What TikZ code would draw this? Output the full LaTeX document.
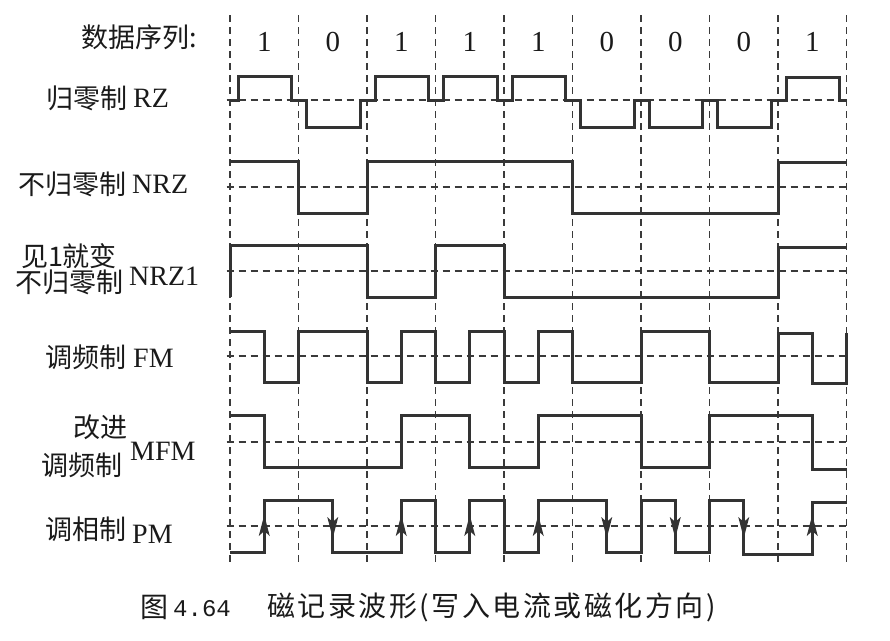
\documentclass[tikz,border=0pt]{standalone}
\usepackage{fontspec}
\setmainfont{Liberation Serif}
\newfontfamily\cjk{Noto Sans CJK SC}
\newfontfamily\cjkcap[LetterSpace=9]{Noto Sans CJK SC}
\newfontfamily\capmono{Liberation Mono}
\definecolor{wavec}{HTML}{333333}
\definecolor{guidec}{HTML}{3A3A3A}
\definecolor{txt}{HTML}{1A1A1A}
\begin{document}
\begin{tikzpicture}[x=1pt,y=-1pt,
  wave/.style={line width=3pt, draw=wavec, line join=miter, line cap=butt},
  guide/.style={line width=1.4pt, draw=guidec, dash pattern=on 7pt off 5pt},
  cn/.style={font=\cjk\fontsize{27}{24}\selectfont, inner sep=0pt, text=txt},
  la/.style={font=\fontsize{28}{28}\selectfont, inner sep=0pt, anchor=base west, text=txt},
  digit/.style={font=\fontsize{29}{29}\selectfont, inner sep=0pt, anchor=base, text=txt},
  tipup/.style={fill=wavec},
]
\useasboundingbox[fill=white] (0,0) rectangle (890,640);

% ---- labels ----
\node[cn, anchor=west] (seq) at (81,37) {数据序列:};
\node[cn, anchor=east] (rzc) at (128,98) {归零制};
\node[la] (rzl) at (133,107) {RZ};
\node[cn, anchor=east] (nrzc) at (127,184) {不归零制};
\node[la] (nrzl) at (132,193) {NRZ};
\node[cn, align=center] (nrzic) at (69,269) {见1就变\\不归零制};
\node[la] (nrzil) at (129,285) {NRZ1};
\node[cn, anchor=east] (fmc) at (127,357) {调频制};
\node[la] (fml) at (133,367) {FM};
\node[cn, anchor=east] (mfmc1) at (128,427) {改进};
\node[cn, anchor=east] (mfmc2) at (123,465) {调频制};
\node[la] (mfml) at (130,460) {MFM};
\node[cn, anchor=east] (pmc) at (127,529) {调相制};
\node[la] (pml) at (132,543) {PM};

% ---- caption ----
\node[font=\cjk\fontsize{28}{28}\selectfont, inner sep=0pt, anchor=west, text=txt] (figno) at (140,607) {图};
\node[font=\capmono\fontsize{24}{24}\selectfont, inner sep=0pt, anchor=west, text=txt] (fignum) at (173,609) {4.64};
\node[font=\cjkcap\fontsize{28}{28}\selectfont, inner sep=0pt, anchor=west, text=txt] (figtitle) at (267,607) {磁记录波形(写入电流或磁化方向)};

\begin{scope}[xshift=230pt, x=68.5pt]
  % guides
  \foreach \k in {0,...,9} \draw[guide] (\k,15) -- (\k,566);
  \foreach \yy in {100,187,271,356,442,526} \draw[guide] (-0.05,\yy) -- (9,\yy);

  % bit values
  \foreach \b [count=\i from 0] in {1,0,1,1,1,0,0,0,1}
    \node[digit] (bit\i) at (\i+0.5,51) {\b};

  % RZ
  \draw[wave] (0,100) -- (0.12,100) -- (0.12,76) -- (0.9,76) -- (0.9,100)
    -- (1.12,100) -- (1.12,127) -- (1.9,127) -- (1.9,100)
    -- (2.12,100) -- (2.12,76) -- (2.9,76) -- (2.9,100)
    -- (3.12,100) -- (3.12,76) -- (3.9,76) -- (3.9,100)
    -- (4.12,100) -- (4.12,76) -- (4.9,76) -- (4.9,100)
    -- (5.12,100) -- (5.12,127) -- (5.9,127) -- (5.9,100)
    -- (6.12,100) -- (6.12,127) -- (6.9,127) -- (6.9,100)
    -- (7.12,100) -- (7.12,127) -- (7.9,127) -- (7.9,100)
    -- (8.12,100) -- (8.12,77) -- (8.9,77) -- (8.9,100) -- (9,100);

  % NRZ
  \draw[wave] (0,161) -- (1,161) -- (1,213) -- (2,213) -- (2,161) -- (5,161)
    -- (5,213) -- (8,213) -- (8,162) -- (9,162);

  % NRZ1
  \draw[wave] (0,297) -- (0,245) -- (2,245) -- (2,297) -- (3,297) -- (3,245)
    -- (4,245) -- (4,297) -- (8,297) -- (8,247) -- (9,247);

  % FM
  \draw[wave] (0,331) -- (0.5,331) -- (0.5,382) -- (1,382) -- (1,331) -- (2,331)
    -- (2,382) -- (2.5,382) -- (2.5,331) -- (3,331) -- (3,382) -- (3.5,382)
    -- (3.5,331) -- (4,331) -- (4,382) -- (4.5,382) -- (4.5,331) -- (5,331)
    -- (5,382) -- (6,382) -- (6,331) -- (7,331) -- (7,382) -- (8,382)
    -- (8,333) -- (8.5,333) -- (8.5,383) -- (9,383) -- (9,333);

  % MFM
  \draw[wave] (0,415) -- (0.5,415) -- (0.5,467) -- (2.5,467) -- (2.5,415)
    -- (3.5,415) -- (3.5,467) -- (4.5,467) -- (4.5,415) -- (6,415) -- (6,467)
    -- (7,467) -- (7,415) -- (8.5,415) -- (8.5,469) -- (9,469);

  % PM
  \draw[wave] (0,552) -- (0.5,552) -- (0.5,500) -- (1.5,500) -- (1.5,552)
    -- (2.5,552) -- (2.5,500) -- (3,500) -- (3,552) -- (3.5,552) -- (3.5,500)
    -- (4,500) -- (4,552) -- (4.5,552) -- (4.5,500) -- (5.5,500) -- (5.5,552)
    -- (6,552) -- (6,500) -- (6.5,500) -- (6.5,552) -- (7,552) -- (7,500)
    -- (7.5,500) -- (7.5,554) -- (8.5,554) -- (8.5,502) -- (9,502);

  % PM arrows
  \foreach \a in {0.5,2.5,3.5,4.5,8.5}
    \fill[tipup] (\a,515) -- ++(5.5pt,-21pt) -- ++(-5.5pt,5pt) -- ++(-5.5pt,-5pt) -- cycle;
  \foreach \a in {1.5,5.5,6.5,7.5}
    \fill[tipup] (\a,538) -- ++(5.5pt,21pt) -- ++(-5.5pt,-5pt) -- ++(-5.5pt,5pt) -- cycle;
\end{scope}
\end{tikzpicture}
\end{document}
